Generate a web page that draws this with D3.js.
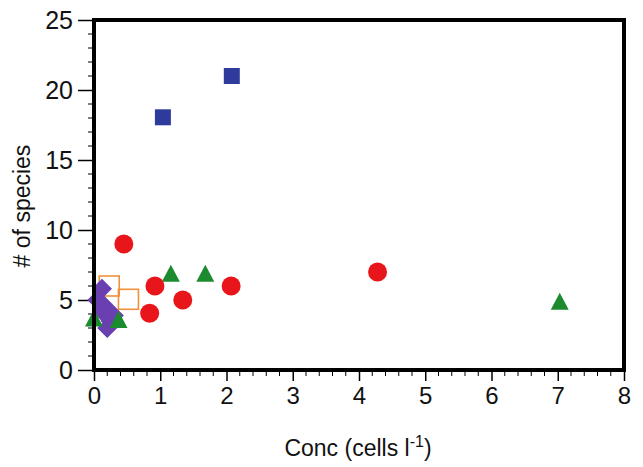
<!DOCTYPE html>
<html><head><meta charset="utf-8">
<script src="https://cdn.jsdelivr.net/npm/d3@7"></script>
<style>body{margin:0;background:#fff;} text{font-family:"Liberation Sans",Arial,sans-serif;}</style>
</head><body>
<svg id="c" width="643" height="467"></svg>
<script>
const xTicks = [0,1,2,3,4,5,6,7,8];
const yTicks = [0,5,10,15,20,25];
const blueSquares = [[1.04,18.05],[2.08,21.0]];
const redCircles = [[0.45,9.0],[0.92,6.0],[0.84,4.05],[1.34,5.0],[2.07,6.0],[4.28,7.0]];
const greenTriangles = [[1.16,6.8],[1.68,6.8],[7.03,4.8],[0.0,3.6],[0.37,3.5]];
const orangeSquares = [[0.23,6.0],[0.52,5.05]];
const purpleDiamonds = [[0.12,5.8],[0.05,5.0],[0.15,4.6],[0.22,4.1],[0.3,3.9],[0.12,4.2],[0.25,3.5],[0.2,3.0]];

const svg = d3.select("#c");
const L=94, R=624, T=20, B=370;
const x = d3.scaleLinear().domain([0,8]).range([L,R]);
const y = d3.scaleLinear().domain([0,25]).range([B,T]);

const xMinor = d3.range(0,8.001,0.2).filter(v=>Math.abs(v-Math.round(v))>1e-6);
const yMinor = d3.range(0,25.001,1).filter(v=>v%5!==0);

const gx = svg.append("g").attr("transform",`translate(0,${B})`);
gx.selectAll("line.mn").data(xMinor).join("line").attr("x1",d=>x(d)).attr("x2",d=>x(d)).attr("y1",0).attr("y2",6).attr("stroke","#000").attr("stroke-width",1);
gx.call(d3.axisBottom(x).tickValues(xTicks).tickSize(11).tickPadding(6).tickFormat(d3.format("d")))
  .call(g=>g.select(".domain").remove())
  .call(g=>g.selectAll(".tick line").attr("stroke-width",1.5))
  .call(g=>g.selectAll(".tick text").attr("font-size",24).attr("font-family","Liberation Sans, Arial, sans-serif").attr("fill","#111"));

const gy = svg.append("g").attr("transform",`translate(${L},0)`);
gy.selectAll("line.mn").data(yMinor).join("line").attr("y1",d=>y(d)).attr("y2",d=>y(d)).attr("x1",0).attr("x2",-6).attr("stroke","#000").attr("stroke-width",1);
gy.call(d3.axisLeft(y).tickValues(yTicks).tickSize(16).tickPadding(5).tickFormat(d3.format("d")))
  .call(g=>g.select(".domain").remove())
  .call(g=>g.selectAll(".tick line").attr("stroke-width",1.5))
  .call(g=>g.selectAll(".tick text").attr("font-size",25).attr("font-family","Liberation Sans, Arial, sans-serif").attr("fill","#111"));

svg.append("g").selectAll("rect").data(orangeSquares).join("rect")
  .attr("x",d=>x(d[0])-10).attr("y",d=>y(d[1])-10).attr("width",20).attr("height",20)
  .attr("fill","none").attr("stroke","#f0913a").attr("stroke-width",1.6);

svg.append("g").selectAll("path").data(purpleDiamonds).join("path")
  .attr("d",d=>{const cx=x(d[0]),cy=y(d[1]),s=10;return `M${cx},${cy-s}L${cx+s},${cy}L${cx},${cy+s}L${cx-s},${cy}Z`;})
  .attr("fill","#6a3fb0");

svg.append("g").selectAll("path").data(greenTriangles).join("path")
  .attr("d",d=>{const cx=x(d[0]),cy=y(d[1]);return `M${cx},${cy-10}L${cx+9},${cy+7}L${cx-9},${cy+7}Z`;})
  .attr("fill","#1c8a2e");

svg.append("g").selectAll("circle").data(redCircles).join("circle")
  .attr("cx",d=>x(d[0])).attr("cy",d=>y(d[1])).attr("r",9.5).attr("fill","#e8161b");

svg.append("g").selectAll("rect").data(blueSquares).join("rect")
  .attr("x",d=>x(d[0])-8).attr("y",d=>y(d[1])-8).attr("width",16).attr("height",16)
  .attr("fill","#2f3b9c");

svg.append("rect").attr("x",L).attr("y",T).attr("width",R-L).attr("height",B-T)
  .attr("fill","none").attr("stroke","#000").attr("stroke-width",4);

const xl = svg.append("text").attr("x",358).attr("y",456).attr("text-anchor","middle").attr("font-size",23).attr("fill","#111");
xl.append("tspan").text("Conc (cells l");
xl.append("tspan").attr("dy",-9).attr("font-size",16).text("-1");
xl.append("tspan").attr("dy",9).text(")");

svg.append("text").attr("transform","translate(30,206) rotate(-90)").attr("text-anchor","middle")
  .attr("font-size",23).attr("fill","#111").text("# of species");
</script>
</body></html>
